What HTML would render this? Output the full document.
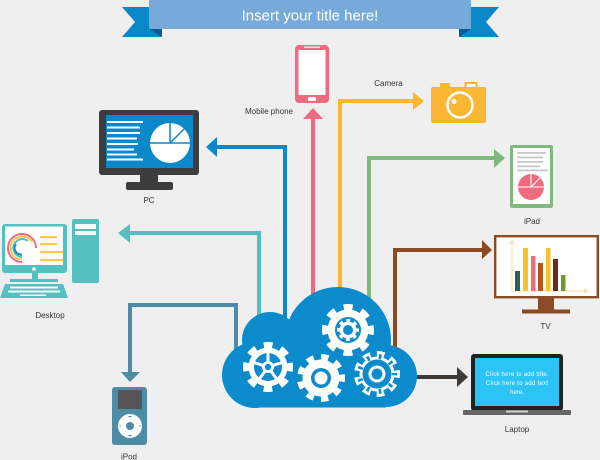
<!DOCTYPE html>
<html>
<head>
<meta charset="utf-8">
<style>
  html,body{margin:0;padding:0;background:#efefef;}
  svg{display:block;}
  text{font-family:"Liberation Sans",Arial,sans-serif;}
</style>
</head>
<body>
<svg width="600" height="460" viewBox="0 0 600 460" xmlns="http://www.w3.org/2000/svg">
  <rect x="0" y="0" width="600" height="460" fill="#efefef"/>

  <!-- Title ribbon -->
  <polygon points="122,7 162,7 162,37 122,37 135,22" fill="#0a87c9"/>
  <polygon points="499,7 459,7 459,37 499,37 486,22" fill="#0a87c9"/>
  <polygon points="149,29 162,29 162,37" fill="#065f90"/>
  <polygon points="471,29 459,29 459,37" fill="#065f90"/>
  <rect x="149" y="0" width="322" height="29" fill="#77aad9"/>
  <text x="310" y="20.5" font-size="15" fill="#ffffff" text-anchor="middle">Insert your title here!</text>

  <!-- Connectors -->
  <g fill="none" stroke-width="4" stroke-linejoin="miter">
    <polyline points="285,330 285,147 214,147" stroke="#0a88c9"/>
    <polyline points="259,330 259,233 127,233" stroke="#55bfbf"/>
    <polyline points="236,360 236,305 130,305 130,374" stroke="#4e8ba5"/>
    <polyline points="313,320 313,117" stroke="#f06b80"/>
    <polyline points="340,320 340,101 415,101" stroke="#fbb634"/>
    <polyline points="369,320 369,158 496,158" stroke="#80b87f"/>
    <polyline points="395,360 395,250 484,250" stroke="#8b4b24"/>
    <polyline points="405,377 459,377" stroke="#3d3a38"/>
  </g>
  <polygon points="206,147 217,137 217,157" fill="#0a88c9"/>
  <polygon points="118,233 130,224 130,243" fill="#55bfbf"/>
  <polygon points="130,382 121,372 140,372" fill="#4e8ba5"/>
  <polygon points="313,108 303,119 323,119" fill="#f06b80"/>
  <polygon points="424,101 413,92 413,110" fill="#fbb634"/>
  <polygon points="505,158 494,149 494,168" fill="#80b87f"/>
  <polygon points="492,250 482,240 482,259" fill="#8b4b24"/>
  <polygon points="468,377 457,367 457,387" fill="#3d3a38"/>

  <!-- Cloud -->
  <g fill="#0b8bcb">
    <circle cx="338" cy="340" r="53"/>
    <circle cx="270" cy="340" r="28"/>
    <circle cx="255" cy="375" r="33"/>
    <circle cx="386" cy="376" r="31"/>
    <rect x="255" y="340" width="131" height="67.5"/>
  </g>

  <!-- Gear 3 (top) -->
  <g transform="translate(348,330)">
    <circle r="20.5" fill="#fff"/>
    <circle r="23" fill="none" stroke="#fff" stroke-width="6" stroke-dasharray="9.03 9.03" stroke-dashoffset="4.5"/>
    <circle r="13" fill="#0b8bcb"/>
    <circle r="8.5" fill="#fff"/>
    <circle r="9.5" fill="none" stroke="#fff" stroke-width="3" stroke-dasharray="3.73 3.73" stroke-dashoffset="1.86"/>
    <circle r="5" fill="#0b8bcb"/>
  </g>
  <!-- Gear 1 (left, spoked) -->
  <g transform="translate(268,367)">
    <circle r="19.5" fill="#fff"/>
    <circle r="22" fill="none" stroke="#fff" stroke-width="6" stroke-dasharray="8.64 8.64" stroke-dashoffset="4.32"/>
    <circle r="14" fill="#0b8bcb"/>
    <g stroke="#fff" stroke-width="3">
      <line x1="0" y1="0" x2="0" y2="-15"/>
      <line x1="0" y1="0" x2="14.3" y2="-4.6"/>
      <line x1="0" y1="0" x2="8.8" y2="12.1"/>
      <line x1="0" y1="0" x2="-8.8" y2="12.1"/>
      <line x1="0" y1="0" x2="-14.3" y2="-4.6"/>
    </g>
    <circle r="6" fill="#fff"/>
    <circle r="3.2" fill="#0b8bcb"/>
  </g>
  <!-- Gear 2 (middle) -->
  <g transform="translate(321,378)">
    <circle r="18.5" fill="#fff"/>
    <circle r="21" fill="none" stroke="#fff" stroke-width="6" stroke-dasharray="7.33 7.33" stroke-dashoffset="3.66"/>
    <circle r="10" fill="#0b8bcb"/>
    <circle r="6.5" fill="#fff"/>
  </g>
  <!-- Gear 4 (outline) -->
  <g transform="translate(377,374)">
    <circle r="17.5" fill="#fff"/>
    <circle r="20" fill="none" stroke="#fff" stroke-width="6" stroke-dasharray="7.5 6.46" stroke-dashoffset="3.75"/>
    <circle r="14.5" fill="#0b8bcb"/>
    <circle r="17.5" fill="none" stroke="#0b8bcb" stroke-width="5" stroke-dasharray="2.6 9.62" stroke-dashoffset="1.3"/>
    <circle r="7" fill="none" stroke="#fff" stroke-width="3"/>
  </g>

  <!-- Mobile phone -->
  <rect x="295" y="45" width="34" height="58" rx="4" fill="#f06b80"/>
  <rect x="298.5" y="50" width="27" height="45" fill="#fff"/>
  <rect x="304" y="46.5" width="16" height="1.2" fill="#fff"/>
  <rect x="308" y="97" width="8" height="4" rx="1.5" fill="#fff"/>
  <text x="269" y="114" font-size="8" fill="#333" text-anchor="middle">Mobile phone</text>

  <!-- Camera -->
  <rect x="440" y="83" width="10" height="6" rx="1" fill="#fbb634"/>
  <rect x="464.5" y="82" width="13" height="7" fill="#fbb634"/>
  <rect x="466.5" y="84" width="9" height="4" fill="#fff"/>
  <rect x="431" y="87" width="55" height="36" rx="2" fill="#fbb634"/>
  <circle cx="460" cy="105" r="12.5" fill="none" stroke="#fff" stroke-width="2.5"/>
  <circle cx="454" cy="101.5" r="2.5" fill="#fff"/>
  <text x="388.5" y="86" font-size="8" fill="#333" text-anchor="middle">Camera</text>

  <!-- PC -->
  <rect x="99" y="110" width="100" height="65" rx="3" fill="#3d3d3d"/>
  <rect x="106" y="115" width="87" height="53" fill="#0a88c9"/>
  <g fill="#fff">
    <rect x="107" y="121" width="36" height="2"/>
    <rect x="107" y="126.5" width="33" height="2"/>
    <rect x="107" y="132" width="33" height="2"/>
    <rect x="107" y="137.5" width="30" height="2"/>
    <rect x="107" y="143" width="31" height="2"/>
    <rect x="107" y="148.5" width="27" height="2"/>
    <rect x="107" y="153.5" width="30" height="2"/>
    <rect x="107" y="158.5" width="36" height="2"/>
  </g>
  <circle cx="170" cy="143" r="20" fill="#fff"/>
  <g stroke="#0a88c9" stroke-width="1.5">
    <line x1="150" y1="143" x2="190" y2="143"/>
    <line x1="170" y1="123" x2="170" y2="143"/>
    <line x1="170" y1="143" x2="184.5" y2="128.5"/>
  </g>
  <rect x="140" y="174" width="18" height="9" fill="#3d3d3d"/>
  <rect x="126" y="182" width="47" height="8" rx="2" fill="#3d3d3d"/>
  <text x="149" y="203" font-size="8" fill="#333" text-anchor="middle">PC</text>

  <!-- Desktop -->
  <rect x="2" y="224" width="65" height="49" rx="3" fill="#55c0c0"/>
  <rect x="5" y="226.5" width="58" height="38.5" fill="#fff"/>
  <circle cx="34" cy="269" r="1.8" fill="#fff"/>
  <rect x="32" y="272" width="6" height="8" fill="#55c0c0"/>
  <rect x="10" y="279" width="48" height="3" fill="#55c0c0"/>
  <polygon points="5,284 63,284 68,298 0,298" fill="#55c0c0"/>
  <g fill="#fff">
    <rect x="10" y="286.5" width="48" height="2"/>
    <rect x="8" y="290.5" width="52" height="2"/>
    <rect x="20" y="294.5" width="26" height="1.5"/>
  </g>
  <rect x="72" y="219" width="27" height="64" rx="2" fill="#55c0c0"/>
  <rect x="75" y="224" width="21" height="5" fill="#fff"/>
  <rect x="75" y="231" width="21" height="4" fill="#fff"/>
  <g fill="none" stroke-width="2">
    <path d="M22 262 A14 14 0 1 1 36 248" stroke="#f06b80"/>
    <path d="M22 259.5 A11.5 11.5 0 1 1 32 242" stroke="#fcc74e"/>
    <path d="M22 257 A9 9 0 1 1 28 241" stroke="#55c0c0"/>
    <path d="M22 254.5 A6.5 6.5 0 0 1 16 244" stroke="#0a88c9"/>
  </g>
  <g fill="#fcc74e">
    <rect x="40" y="236" width="17" height="2.2"/>
    <rect x="40" y="243" width="17" height="2.2"/>
    <rect x="40" y="251" width="23" height="2.2"/>
    <rect x="40" y="259" width="23" height="2.2"/>
  </g>
  <text x="50" y="318" font-size="8" fill="#333" text-anchor="middle">Desktop</text>

  <!-- iPod -->
  <rect x="112" y="387" width="35" height="58" rx="3" fill="#4e8ba5"/>
  <rect x="118" y="390" width="24" height="19" rx="1" fill="#555"/>
  <circle cx="130" cy="426" r="12" fill="#fff"/>
  <circle cx="130" cy="426" r="4" fill="#4e8ba5"/>
  <g fill="#4e8ba5">
    <rect x="128.5" y="416" width="3" height="1.2"/>
    <rect x="128.5" y="435" width="3" height="1.2"/>
    <rect x="119.5" y="425.4" width="1.2" height="1.2"/>
    <rect x="139.3" y="425.4" width="1.2" height="1.2"/>
  </g>
  <text x="129" y="459.5" font-size="8" fill="#333" text-anchor="middle">iPod</text>

  <!-- iPad -->
  <rect x="510" y="145" width="43" height="63" rx="2" fill="#80b87f"/>
  <rect x="513" y="148" width="37" height="56" fill="#fff"/>
  <g fill="#c8c8c8">
    <rect x="517" y="152" width="29" height="1.8"/>
    <rect x="517" y="156.5" width="26" height="1.8"/>
    <rect x="517" y="161" width="26" height="1.8"/>
    <rect x="517" y="165.5" width="23" height="1.8"/>
    <rect x="517" y="169.5" width="31" height="1.8"/>
  </g>
  <circle cx="531" cy="187" r="13" fill="#f06b80"/>
  <g stroke="#fff" stroke-width="1">
    <line x1="518" y1="187" x2="544" y2="187"/>
    <line x1="531" y1="174" x2="531" y2="187"/>
    <line x1="531" y1="187" x2="540.5" y2="177.5"/>
  </g>
  <text x="532" y="224" font-size="8" fill="#333" text-anchor="middle">iPad</text>

  <!-- TV -->
  <rect x="495.2" y="236.2" width="102.6" height="61" fill="#fff" stroke="#8b4b24" stroke-width="2.4"/>
  <rect x="538" y="297" width="16" height="13" fill="#8b4b24"/>
  <rect x="522" y="309.5" width="48" height="4" fill="#8b4b24"/>
  <g stroke="#fde2b8" stroke-width="1.2">
    <line x1="512" y1="243" x2="512" y2="291"/>
    <line x1="512" y1="291" x2="585" y2="291"/>
  </g>
  <polygon points="512,239 509,244 515,244" fill="#fde2b8"/>
  <polygon points="589,291 584,288 584,294" fill="#fde2b8"/>
  <rect x="515" y="271" width="5" height="20" fill="#2f5f5f"/>
  <rect x="523" y="248" width="5" height="43" fill="#fbc02d"/>
  <rect x="531" y="256" width="4.5" height="35" fill="#f06b80"/>
  <rect x="538" y="263" width="5" height="28" fill="#b4561f"/>
  <rect x="546" y="248" width="4.5" height="43" fill="#fbc02d"/>
  <rect x="553" y="259" width="5" height="32" fill="#6b2a1d"/>
  <rect x="561" y="275" width="4.5" height="16" fill="#6a9d2a"/>
  <text x="545.5" y="329" font-size="8" fill="#333" text-anchor="middle">TV</text>

  <!-- Laptop -->
  <rect x="471" y="354" width="92" height="57" rx="3" fill="#222"/>
  <rect x="475" y="358" width="84" height="48" fill="#2cc3f5"/>
  <rect x="463" y="410" width="108" height="5" rx="1" fill="#666"/>
  <rect x="506" y="410.5" width="22" height="2" fill="#d0d0d0"/>
  <g font-size="6" fill="#fff" text-anchor="middle">
    <text x="517" y="376" textLength="63" lengthAdjust="spacing">Click here to add title.</text>
    <text x="517" y="385" textLength="62" lengthAdjust="spacing">Click here to add text</text>
    <text x="517" y="394">here.</text>
  </g>
  <text x="517" y="432" font-size="8" fill="#333" text-anchor="middle">Laptop</text>
</svg>
</body>
</html>
